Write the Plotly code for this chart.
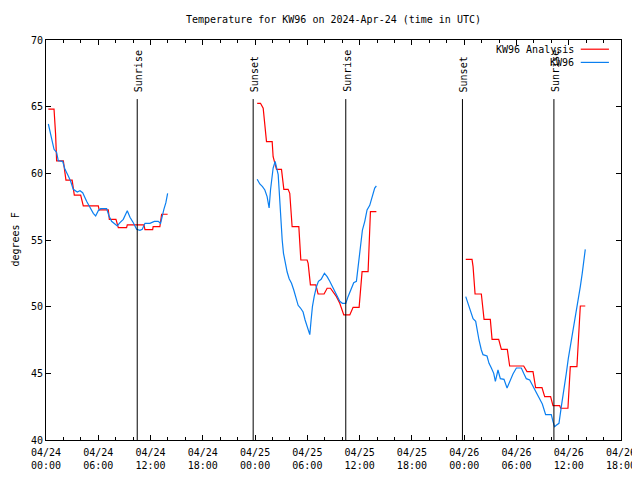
import pandas as pd
import plotly.graph_objects as go

BASE = pd.Timestamp("2024-04-24 00:00")

# ---- KW96 Analysis (red), hours after 04/24 00:00 UTC, degrees F
red_hours_1 = [0.27, 0.92, 1.10, 1.22, 1.99, 2.29, 3.00, 3.10, 3.25, 3.98, 4.28, 6.00, 6.10, 7.15, 7.27,
               8.03, 8.30, 9.25, 9.33, 11.24, 11.36, 12.24, 12.30, 13.07, 13.27, 13.96]
red_temp_1 = [64.82, 64.82, 62.94, 60.94, 60.94, 59.49, 59.49, 59.0, 58.36, 58.36, 57.56, 57.56, 57.26, 57.26, 56.55,
              56.55, 55.93, 55.93, 56.13, 56.13, 55.78, 55.78, 56.0, 56.0, 56.93, 56.93]
red_hours_2 = [24.24, 24.62, 24.93, 25.12, 25.31, 25.96, 26.07, 26.46, 27.03, 27.30, 27.79, 27.98, 28.25, 29.02,
               29.25, 29.97, 30.09, 30.35, 30.97, 31.23, 31.92, 32.27, 32.65, 33.34, 33.72, 34.18, 34.87,
               35.25, 35.94, 36.28, 36.97, 37.24, 37.92]
red_temp_2 = [65.25, 65.25, 64.88, 63.75, 62.38, 62.38, 61.25, 60.3, 60.3, 58.8, 58.8, 58.5, 56.0, 56.0,
              53.5, 53.5, 53.25, 51.63, 51.63, 50.95, 50.95, 51.38, 51.38, 50.75, 50.25, 49.38, 49.38,
              49.95, 49.95, 52.63, 52.63, 57.13, 57.13]
red_hours_3 = [48.18, 48.90, 49.02, 49.21, 49.25, 49.97, 50.16, 50.28, 51.00, 51.20, 51.96, 52.27, 52.95, 53.22,
               54.83, 55.21, 55.90, 56.20, 56.93, 57.24, 57.92, 58.19, 58.96, 59.07, 59.91, 60.18, 60.94,
               61.10, 61.25, 61.33, 61.90]
red_temp_3 = [53.55, 53.55, 53.0, 51.3, 50.95, 50.95, 50.0, 49.05, 49.05, 47.55, 47.55, 46.8, 46.8, 45.55,
              45.55, 45.13, 45.13, 43.93, 43.93, 43.25, 43.25, 42.58, 42.58, 42.38, 42.38, 45.5, 45.5,
              47.75, 49.3, 50.05, 50.05]

# ---- KW96 observations (blue)
blue_hours_1 = [0.27, 0.65, 0.92, 1.22, 1.41, 1.91, 2.18, 2.56, 2.83, 3.13, 3.59, 3.90, 4.21, 4.66, 5.05,
                5.43, 5.70, 6.00, 6.27, 6.96, 7.23, 7.53, 7.91, 8.18, 8.49, 8.87, 9.33, 9.64, 10.02,
                10.40, 10.78, 11.05, 11.36, 11.93, 12.43, 12.88, 13.15, 13.34, 13.53, 13.76, 13.96]
blue_temp_1 = [63.7, 62.7, 61.8, 61.57, 60.94, 60.9, 60.3, 59.8, 59.4, 58.8, 58.6, 58.7, 58.55, 57.9, 57.4,
               57.0, 56.8, 57.2, 57.35, 57.35, 56.8, 56.4, 56.2, 56.05, 56.3, 56.55, 57.2, 56.7, 56.3,
               55.8, 55.73, 55.8, 56.25, 56.25, 56.4, 56.4, 56.25, 56.9, 57.3, 57.8, 58.5]
blue_hours_2 = [24.24, 24.54, 24.85, 25.12, 25.38, 25.61, 25.77, 25.92, 26.07, 26.30, 26.46, 26.65, 26.76,
                26.88, 26.95, 27.11, 27.26, 27.46, 27.68, 27.91, 28.18, 28.44, 28.67, 28.94, 29.21, 29.51,
                29.74, 30.01, 30.28, 30.43, 30.58, 30.78, 31.04, 31.27, 31.58, 31.96, 32.27, 32.57, 32.95,
                33.34, 33.72, 34.02, 34.41, 34.67, 35.06, 35.32, 35.63, 35.86, 36.09, 36.32, 36.59,
                36.85, 37.16, 37.47, 37.73, 37.92]
blue_temp_2 = [59.55, 59.2, 59.0, 58.75, 58.25, 57.4, 58.75, 59.5, 60.4, 60.9, 60.4, 59.9, 58.75,
               57.5, 56.1, 55.0, 54.0, 53.25, 52.6, 52.1, 51.75, 51.25, 50.75, 50.1, 49.9, 49.6,
               49.0, 48.4, 47.9, 49.0, 50.0, 50.75, 51.5, 51.9, 52.05, 52.5, 52.25, 51.9, 51.4,
               50.9, 50.4, 50.25, 50.25, 50.75, 51.4, 51.8, 51.9, 53.25, 54.75, 55.75, 56.4,
               57.25, 57.6, 58.4, 58.9, 59.05]
blue_hours_3 = [48.18, 48.44, 48.71, 49.02, 49.32, 49.47, 49.70, 49.97, 50.16, 50.62, 50.85, 51.12, 51.39,
                51.58, 51.88, 52.15, 52.57, 52.92, 53.22, 53.60, 53.99, 54.56, 54.83, 55.13, 55.52, 55.90,
                56.28, 56.66, 56.97, 57.35, 58.00, 58.19, 58.38, 58.57, 58.88, 59.15, 59.41, 59.72,
                59.95, 60.18, 60.49, 60.79, 61.06, 61.33, 61.55, 61.75, 61.90]
blue_temp_3 = [50.75, 50.25, 49.6, 49.1, 48.9, 48.25, 47.5, 46.75, 46.4, 46.3, 45.75, 45.4, 45.0,
               44.4, 45.25, 44.6, 44.55, 43.9, 44.4, 44.95, 45.4, 45.4, 45.0, 44.6, 44.5, 44.0,
               43.5, 43.05, 42.7, 41.9, 41.9, 41.4, 41.0, 41.1, 41.25, 42.5, 43.5, 45.0,
               46.1, 47.0, 48.0, 49.25, 50.25, 51.5, 52.5, 53.5, 54.3]

# ---- Sun events (hours after 04/24 00:00 UTC)
sun_hours = [10.47, 23.78, 34.41, 47.80, 58.30]
sun_labels = ["Sunrise", "Sunset", "Sunrise", "Sunset", "Sunrise"]

y_ticks = [40, 45, 50, 55, 60, 65, 70]

FONT = "DejaVu Sans Mono"
RED = "#ff0000"
BLUE = "#0a7ff0"

# page body margin offset (browser default) compensated in the layout margins
OFF = 8


def to_time(h):
    return [BASE + pd.Timedelta(hours=v) for v in h]


def join(*segs):
    out = []
    for i, s in enumerate(segs):
        if i:
            out.append(None)
        out.extend(s)
    return out


red_x = join(to_time(red_hours_1), to_time(red_hours_2), to_time(red_hours_3))
red_y = join(red_temp_1, red_temp_2, red_temp_3)
blue_x = join(to_time(blue_hours_1), to_time(blue_hours_2), to_time(blue_hours_3))
blue_y = join(blue_temp_1, blue_temp_2, blue_temp_3)

fig = go.Figure()
fig.add_trace(go.Scatter(x=red_x, y=red_y, mode="lines", name="KW96 Analysis",
                         line=dict(color=RED, width=1.2), connectgaps=False))
fig.add_trace(go.Scatter(x=blue_x, y=blue_y, mode="lines", name="KW96",
                         line=dict(color=BLUE, width=1.2), connectgaps=False))

for h, lab in zip(sun_hours, sun_labels):
    t = BASE + pd.Timedelta(hours=h)
    fig.add_shape(type="line", xref="x", yref="y", x0=t, x1=t, y0=40, y1=65.57,
                  line=dict(color="black", width=1))
    fig.add_annotation(x=t, y=65.95, xref="x", yref="y", text=lab, textangle=-90,
                       showarrow=False, xanchor="center", yanchor="bottom", xshift=1,
                       font=dict(family=FONT, size=10, color="black"))

# manual gnuplot-style legend (text left, sample right)
legend_rows = [("KW96 Analysis", RED, 0.977), ("KW96", BLUE, 0.944)]
for txt, col, yy in legend_rows:
    fig.add_annotation(x=0.921, y=yy, xref="paper", yref="paper", text=txt, showarrow=False,
                       xanchor="right", yanchor="middle", font=dict(family=FONT, size=10, color="black"))
    fig.add_shape(type="line", xref="paper", yref="paper", x0=0.930, x1=0.979, y0=yy, y1=yy,
                  line=dict(color=col, width=1.2))

fig.add_annotation(x=-(46 - OFF) / 575, y=0.5, xref="paper", yref="paper", text="degrees F",
                   textangle=-90, showarrow=False, xanchor="left", yanchor="middle", borderpad=0,
                   font=dict(family=FONT, size=10, color="black"))

fig.update_layout(
    width=640, height=480,
    margin=dict(l=46 - OFF, r=19 + OFF, t=40 - OFF, b=40 + OFF),
    paper_bgcolor="white", plot_bgcolor="white",
    showlegend=False,
    font=dict(family=FONT, size=10, color="black"),
    title=dict(text="Temperature for KW96 on 2024-Apr-24 (time in UTC)", x=0.5, xref="paper",
               y=1 - (19 - OFF) / 480, yanchor="middle", font=dict(family=FONT, size=10, color="black")),
)
fig.update_xaxes(
    type="date",
    range=[BASE, BASE + pd.Timedelta(hours=66)],
    dtick=6 * 3600 * 1000, tick0=BASE,
    tickformat="%m/%d<br>%H:%M",
    ticks="inside", ticklen=5, tickcolor="black", tickwidth=1,
    ticklabelstandoff=3,
    minor=dict(dtick=2 * 3600 * 1000, ticks="inside", ticklen=3, tickcolor="black", tickwidth=1),
    showgrid=False, zeroline=False,
    showline=True, linecolor="black", linewidth=1, mirror="ticks",
    tickfont=dict(family=FONT, size=10, color="black"),
)
fig.update_yaxes(
    range=[40, 70], tickvals=y_ticks, ticktext=[str(v) for v in y_ticks],
    ticks="inside", ticklen=5, tickcolor="black", tickwidth=1,
    showgrid=False, zeroline=False,
    showline=True, linecolor="black", linewidth=1, mirror="ticks",
    tickfont=dict(family=FONT, size=10, color="black"),
)

fig.write_html("out.html")
